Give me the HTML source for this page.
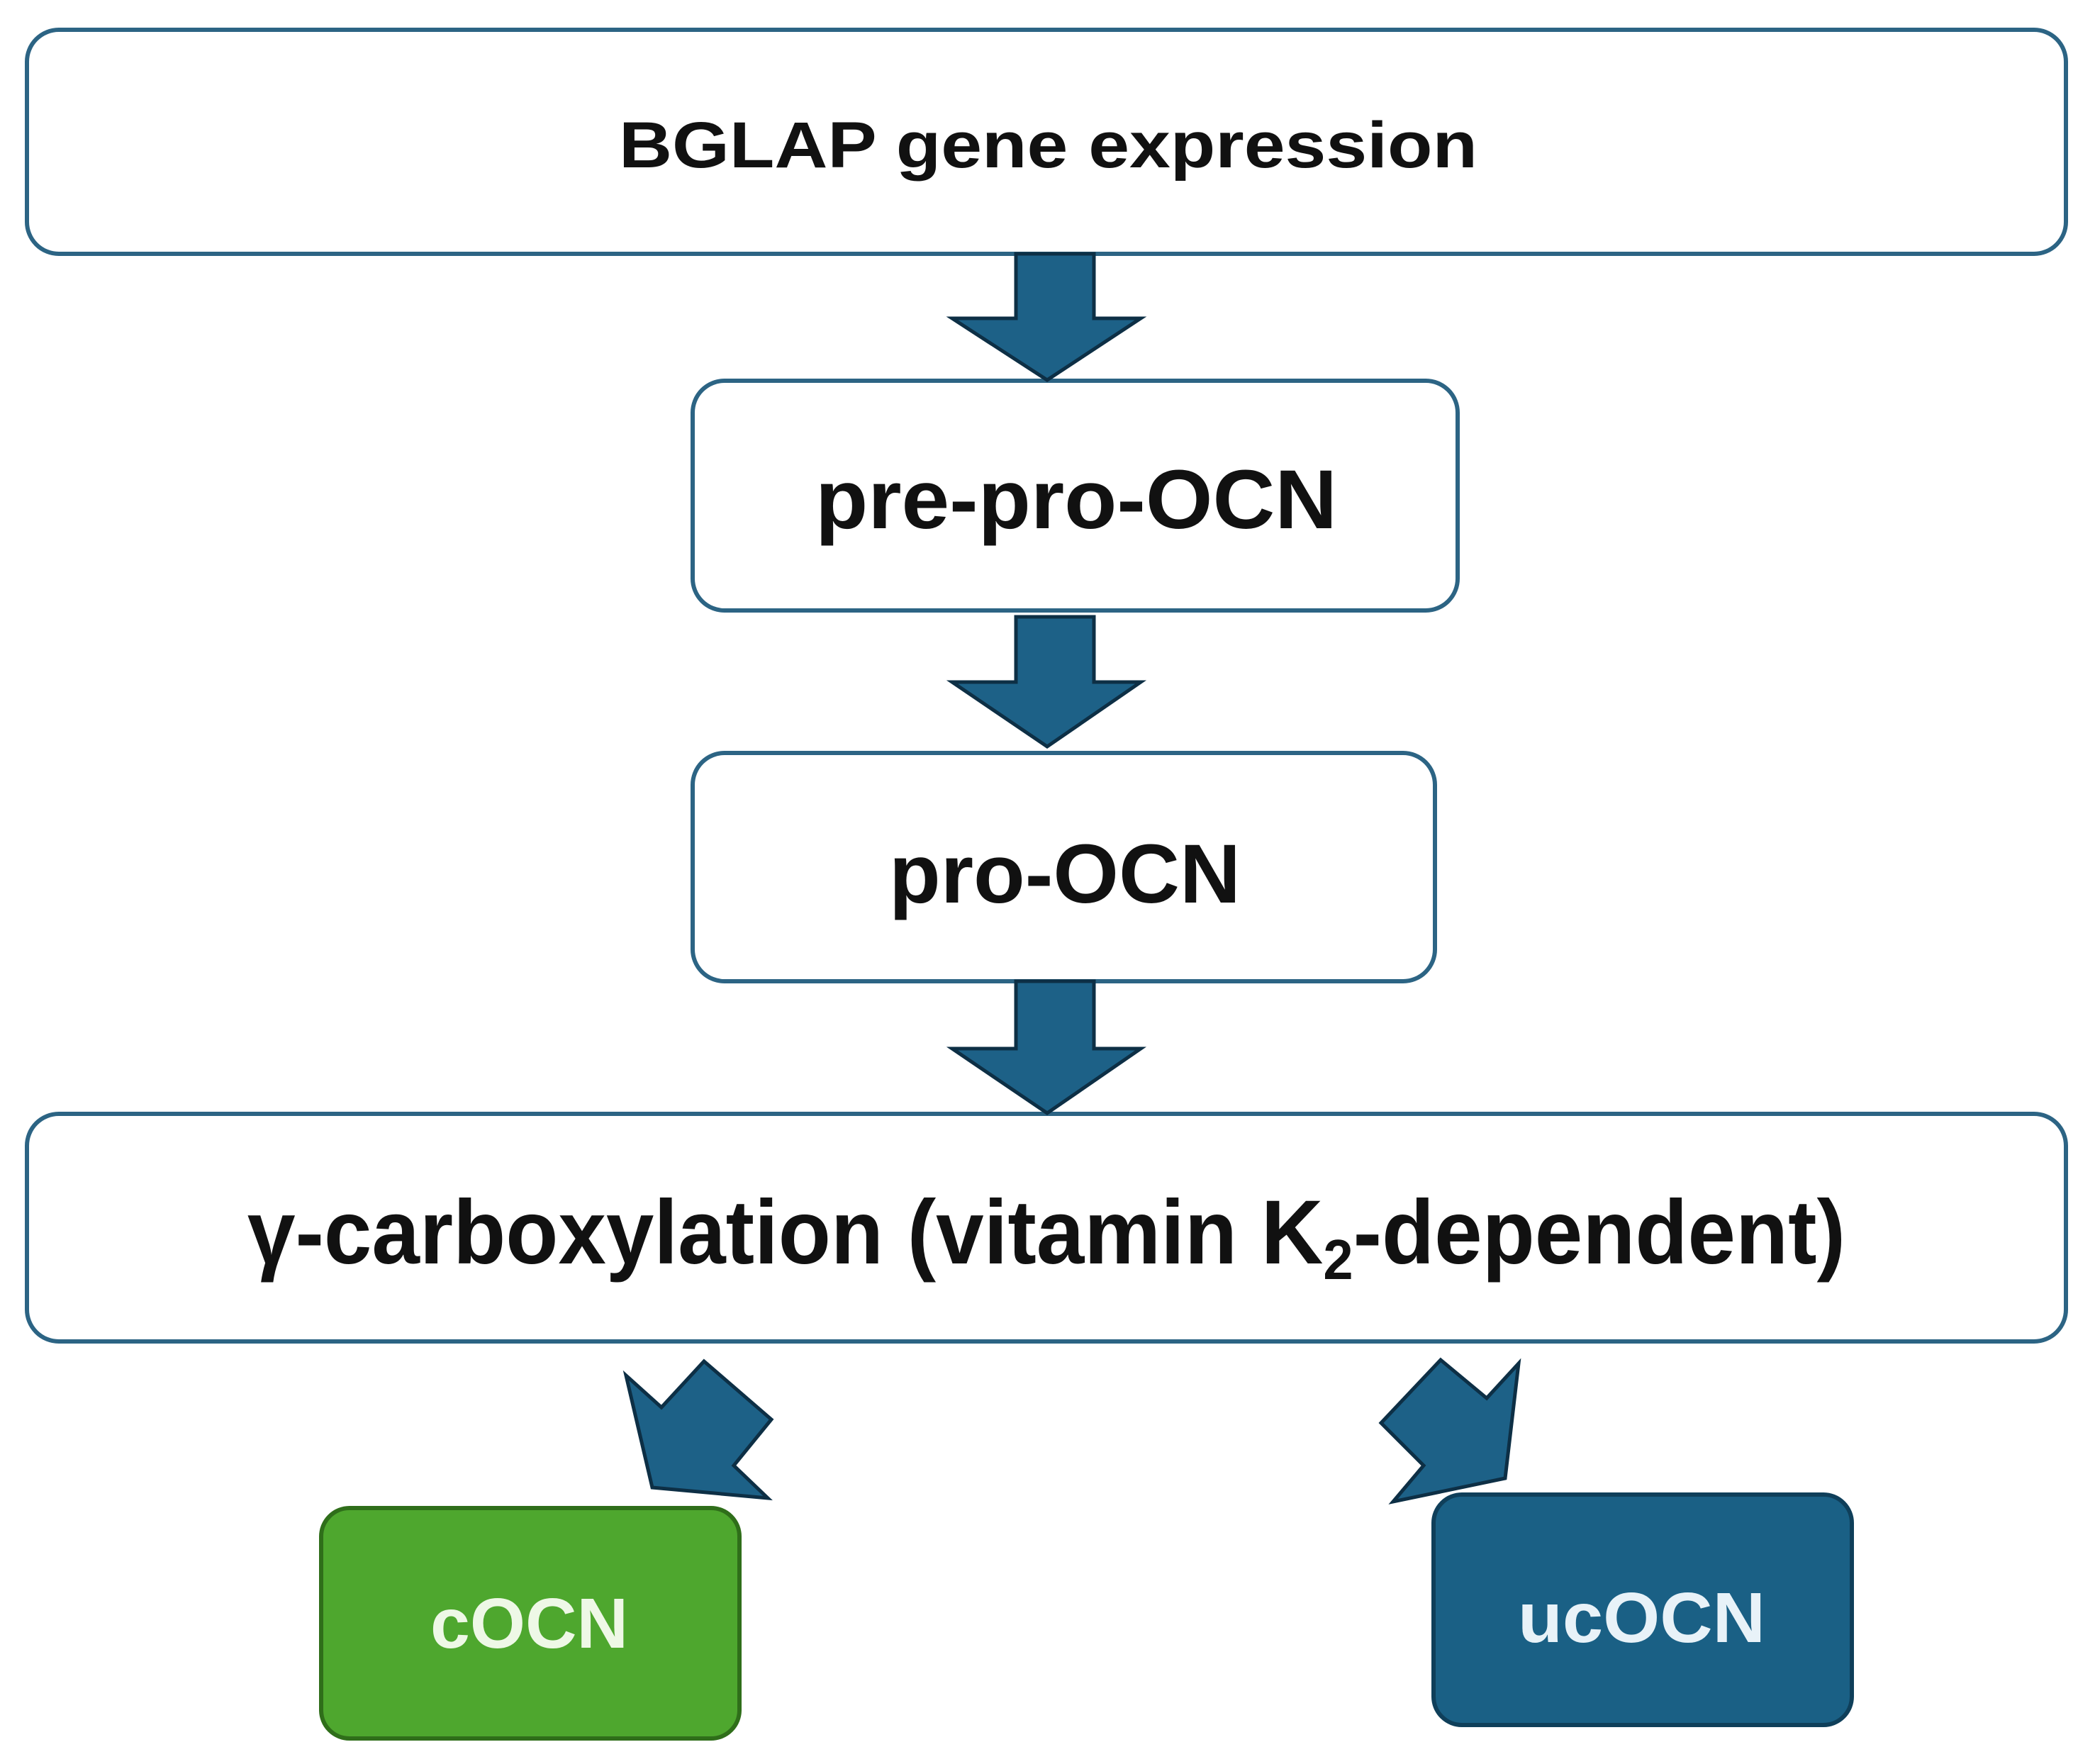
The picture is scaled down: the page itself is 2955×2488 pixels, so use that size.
<!DOCTYPE html>
<html><head><meta charset="utf-8"><style>html,body{margin:0;padding:0;background:#fff}svg{display:block}</style></head>
<body>
<svg xmlns="http://www.w3.org/2000/svg" width="2955" height="2488" viewBox="0 0 2955 2488">
<g fill="#fff" stroke="#2c6484" stroke-width="6">
<rect x="38" y="42" width="2876" height="316" rx="45"/>
<rect x="977" y="537" width="1079" height="324" rx="45"/>
<rect x="977" y="1062" width="1047" height="322" rx="45"/>
<rect x="38" y="1571" width="2876" height="321" rx="45"/>
</g>
<g fill="#1d6187" stroke="#0d2f45" stroke-width="5" stroke-linejoin="miter">
<polygon points="1433,358 1543,358 1543,449 1609,449 1477,536 1343,449 1433,449"/>
<polygon points="1433,870 1543,870 1543,962 1609,962 1477,1053 1343,962 1433,962"/>
<polygon points="1433,1384 1543,1384 1543,1479 1609,1479 1477,1570 1343,1479 1433,1479"/>
<polygon points="883,1940 933,1985 993,1920 1088,2002 1035,2067 1083,2113 920,2098"/>
<polygon points="2032,1918 2097,1972 2142,1923 2123,2085 1965,2118 2008,2067 1948,2007"/>
</g>
<rect x="453" y="2127" width="590" height="325" rx="40" fill="#4ea72e" stroke="#2f6e1a" stroke-width="6"/>
<rect x="2022" y="2108" width="590" height="325" rx="40" fill="#1a6085" stroke="#0f3f5a" stroke-width="6"/>
<g font-family="Liberation Sans, sans-serif" font-weight="bold" fill="#111">
<text x="873" y="236" font-size="92" textLength="1211" lengthAdjust="spacingAndGlyphs">BGLAP gene expression</text>
<text x="1150" y="745" font-size="118" textLength="736" lengthAdjust="spacingAndGlyphs">pre-pro-OCN</text>
<text x="1254" y="1273" font-size="118" textLength="496" lengthAdjust="spacingAndGlyphs">pro-OCN</text>
<text x="349" y="1782" font-size="128" textLength="2254" lengthAdjust="spacingAndGlyphs">γ-carboxylation (vitamin K<tspan font-size="80" dy="22">2</tspan><tspan dy="-22">-dependent)</tspan></text>
<text x="607" y="2324" font-size="100" fill="#eef8e6" textLength="279" lengthAdjust="spacingAndGlyphs">cOCN</text>
<text x="2141" y="2316" font-size="100" fill="#e8f2f8" textLength="349" lengthAdjust="spacingAndGlyphs">ucOCN</text>
</g>
</svg>
</body></html>
